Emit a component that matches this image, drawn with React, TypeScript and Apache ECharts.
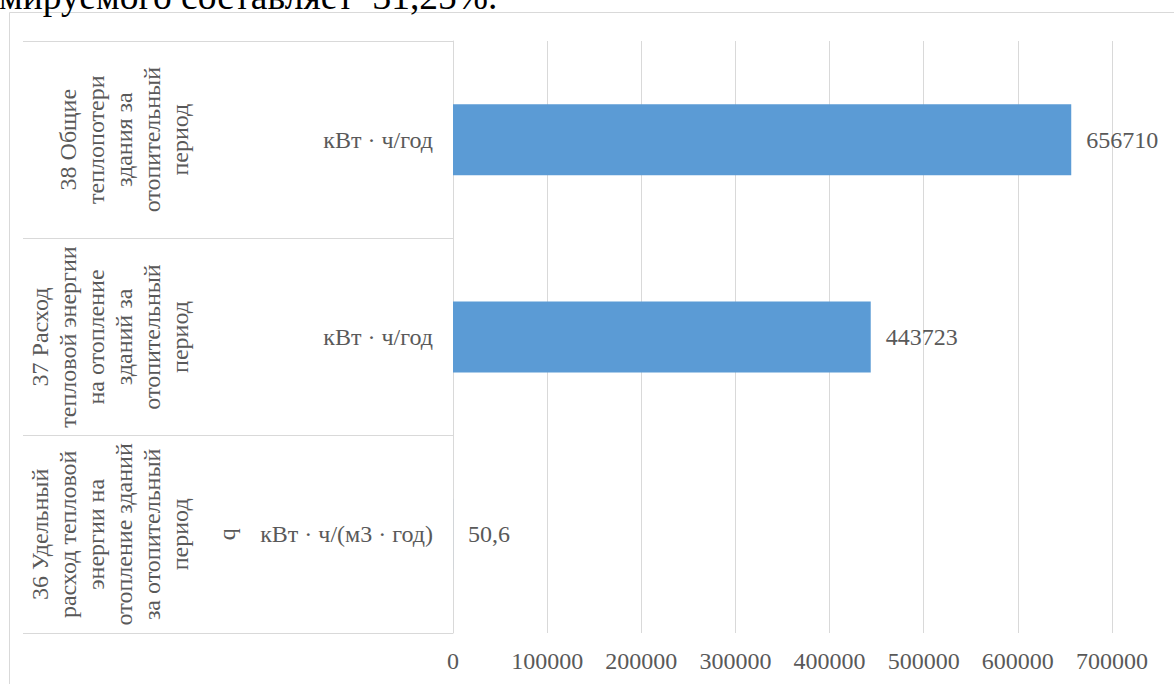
import React, { useEffect, useRef } from "react";
import * as echarts from "echarts";

// Categories, bottom to top (ECharts draws the first category at the bottom)
const categoryNames: string[] = [
  "36 Удельный\nрасход тепловой\nэнергии на\nотопление зданий\nза отопительный\nпериод",
  "37 Расход\nтепловой энергии\nна отопление\nзданий за\nотопительный\nпериод",
  "38 Общие\nтеплопотери\nздания за\nотопительный\nпериод",
];
const symbols: string[] = ["q", "", ""];
const units: string[] = ["кВт · ч/(м3 · год)", "кВт · ч/год", "кВт · ч/год"];
const values: number[] = [50.6, 443723, 656710];
const xTicks: number[] = [0, 100000, 200000, 300000, 400000, 500000, 600000, 700000];
const headerText = "мируемого составляет  31,25%.";

const FONT = "'Liberation Serif', 'Times New Roman', serif";
const TEXT = "#595959";
const GRID = "#d9d9d9";
const FS = 24;

export default function App() {
  const ref = useRef<HTMLDivElement>(null);
  useEffect(() => {
    if (!ref.current) return;
    const chart = echarts.init(ref.current, null, { renderer: "svg" });
    const xMin = xTicks[0];
    const xMax = xTicks[xTicks.length - 1];
    const interval = xTicks[1] - xTicks[0];
    chart.setOption({
      animation: false,
      backgroundColor: "#ffffff",
      textStyle: { fontFamily: FONT },
      grid: { left: 453, right: 62, top: 41, bottom: 51, containLabel: false },
      graphic: [
        {
          type: "rect",
          silent: true,
          z: -10,
          shape: { x: 9.5, y: 12.5, width: 1400, height: 900 },
          style: { fill: "none", stroke: GRID, lineWidth: 1 },
        },
        {
          type: "text",
          silent: true,
          x: -1,
          y: -23,
          style: {
            text: headerText,
            font: `37.5px ${FONT}`,
            fill: "#000000",
            verticalAlign: "top",
          },
        },
      ],
      xAxis: {
        type: "value",
        min: xMin,
        max: xMax,
        interval,
        axisLine: { show: false },
        axisTick: { show: false },
        splitLine: { show: true, lineStyle: { color: GRID, width: 1 } },
        axisLabel: {
          color: TEXT,
          fontFamily: FONT,
          fontSize: FS,
          margin: 16,
          formatter: (v: number) => String(v),
        },
      },
      yAxis: [
        {
          type: "category",
          data: units,
          position: "left",
          boundaryGap: true,
          axisLine: { show: true, lineStyle: { color: GRID, width: 1 } },
          axisTick: { show: true, length: 430, lineStyle: { color: GRID, width: 1 } },
          splitLine: { show: false },
          axisLabel: {
            interval: 0,
            color: TEXT,
            fontFamily: FONT,
            fontSize: FS,
            margin: 20,
          },
        },
        {
          type: "category",
          data: symbols,
          position: "left",
          offset: 0,
          boundaryGap: true,
          axisLine: { show: false },
          axisTick: { show: false },
          splitLine: { show: false },
          axisLabel: {
            interval: 0,
            rotate: 90,
            color: TEXT,
            fontFamily: FONT,
            fontSize: FS,
            align: "center",
            verticalAlign: "middle",
            margin: 226,
          },
        },
        {
          type: "category",
          data: categoryNames,
          position: "left",
          offset: 0,
          boundaryGap: true,
          axisLine: { show: false },
          axisTick: { show: false },
          splitLine: { show: false },
          axisLabel: {
            interval: 0,
            rotate: 90,
            color: TEXT,
            fontFamily: FONT,
            fontSize: FS,
            lineHeight: 28,
            align: "center",
            verticalAlign: "bottom",
            margin: 259,
          },
        },
      ],
      series: [
        {
          type: "bar",
          yAxisIndex: 0,
          data: values,
          barWidth: "36%",
          itemStyle: { color: "#5b9bd5" },
          label: {
            show: true,
            position: "right",
            distance: 15,
            color: TEXT,
            fontFamily: FONT,
            fontSize: FS,
            formatter: (p: any) => String(p.value).replace(".", ","),
          },
        },
      ],
    });
    return () => chart.dispose();
  }, []);
  return (
    <div
      ref={ref}
      style={{ position: "fixed", left: 0, top: 0, width: 1174, height: 684 }}
    />
  );
}
